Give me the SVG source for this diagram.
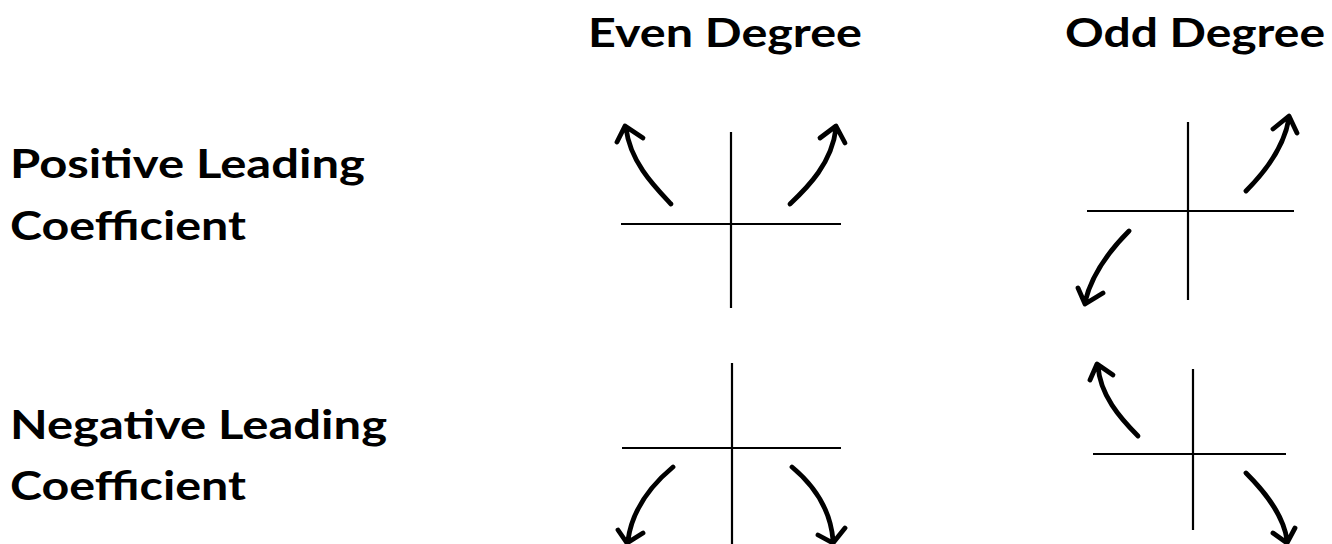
<svg xmlns="http://www.w3.org/2000/svg" width="1332" height="544" viewBox="0 0 1332 544">
<style>
.t{font-family:Lato,"Open Sans","Liberation Sans",sans-serif;font-weight:700;font-size:40px;fill:#000}
.ax{stroke:#000;stroke-width:2.2;fill:none}
.cv{stroke:#000;stroke-width:4.8;fill:none;stroke-linecap:round;stroke-linejoin:round}
</style>
<rect width="1332" height="544" fill="#fff"/>
<g id="header-even"><text class="t" x="588" y="47" textLength="274" lengthAdjust="spacingAndGlyphs">Even Degree</text></g>
<g id="header-odd"><text class="t" x="1065" y="47" textLength="260" lengthAdjust="spacingAndGlyphs">Odd Degree</text></g>
<g id="label-positive">
<text class="t" x="10" y="178" textLength="355" lengthAdjust="spacingAndGlyphs">Positive Leading</text>
<text class="t" x="10" y="240" textLength="236" lengthAdjust="spacingAndGlyphs">Coefficient</text>
</g>
<g id="label-negative">
<text class="t" x="10" y="439" textLength="377" lengthAdjust="spacingAndGlyphs">Negative Leading</text>
<text class="t" x="10" y="500" textLength="236" lengthAdjust="spacingAndGlyphs">Coefficient</text>
</g>
<g id="graph-pos-even">
<path class="ax" d="M731,132V308M621,224H841"/>
<path class="cv" d="M671,204C655,187 630,162 626,128M617,142L625,126L643,138"/>
<path class="cv" d="M790,204C808,187 832,163 836,128M820,138L836,126L845,143"/>
</g>
<g id="graph-pos-odd">
<path class="ax" d="M1188,122V300M1087,211H1294"/>
<path class="cv" d="M1246,191C1265,172 1284,148 1289,118M1273,129L1289,116L1297,133"/>
<path class="cv" d="M1129,231C1110,250 1092,273 1085,302M1078,288L1085,304L1103,293"/>
</g>
<g id="graph-neg-even">
<path class="ax" d="M732,363V544M622,448H841"/>
<path class="cv" d="M673,467C655,482 633,505 628,540M618,530L627,543L643,533"/>
<path class="cv" d="M792,467C810,482 830,505 833,540M818,535L833,543L845,528"/>
</g>
<g id="graph-neg-odd">
<path class="ax" d="M1193,369V530M1093,454H1286"/>
<path class="cv" d="M1138,436C1120,418 1100,395 1098,366M1090,380L1097,364L1113,375"/>
<path class="cv" d="M1246,473C1263,490 1283,513 1287,540M1273,533L1287,543L1295,528"/>
</g>
<g id="connectors"></g>
</svg>
